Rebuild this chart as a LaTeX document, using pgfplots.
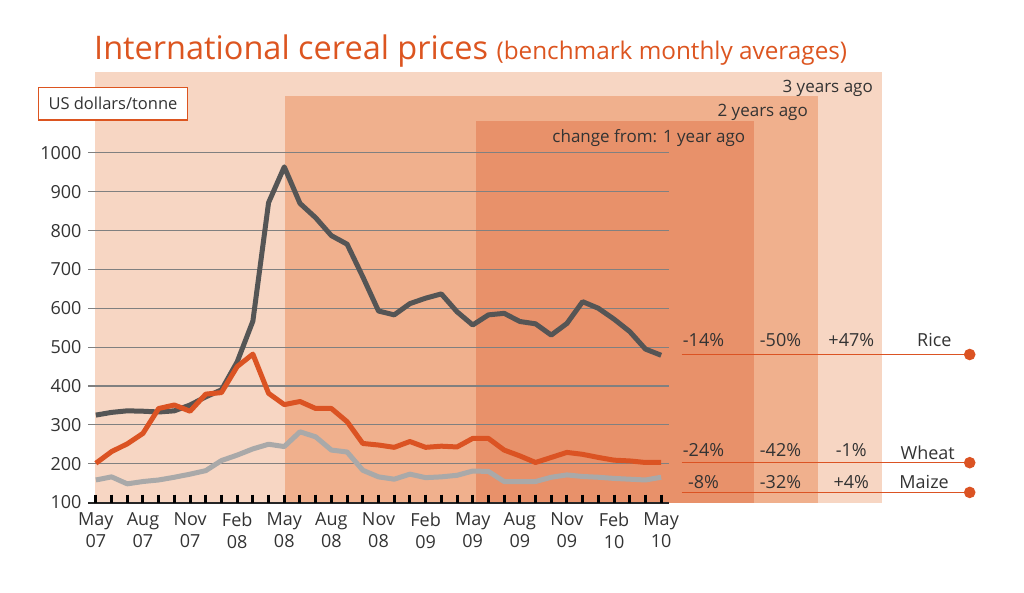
\documentclass[border=0pt]{standalone}
\usepackage{pgfplots}
\usepackage{pgfplotstable}
\pgfplotsset{compat=1.18}
\usepackage{fontspec}
\setmainfont{Open Sans}
\definecolor{bgA}{HTML}{F7D6C3}
\definecolor{bgB}{HTML}{F0B08D}
\definecolor{bgC}{HTML}{E8916A}
\definecolor{titleor}{HTML}{DC5520}
\definecolor{wheatc}{HTML}{DB5323}
\definecolor{ricec}{HTML}{555555}
\definecolor{maizec}{HTML}{A9A9A9}
\definecolor{gridc}{HTML}{808080}
\definecolor{labc}{HTML}{333333}
\pgfplotstableread{
i rice wheat maize
0 325 201 158
1 332 231 166
2 336 251 148
3 335 278 154
4 333 342 158
5 336 351 165
6 351 335 173
7 372 379 182
8 390 383 208
9 462 450 222
10 567 482 238
11 872 381 250
12 964 352 244
13 870 360 282
14 833 342 269
15 787 342 235
16 765 308 230
17 681 252 183
18 593 248 166
19 583 242 160
20 612 257 173
21 626 242 164
22 637 245 166
23 591 243 170
24 557 265 181
25 583 265 180
26 587 235 154
27 566 220 154
28 560 203 154
29 531 216 165
30 561 229 171
31 617 224 167
32 600 216 165
33 572 209 162
34 540 207 160
35 495 203 158
36 479 203 165
}\prices
\begin{document}
\begin{tikzpicture}[x=1pt,y=1pt]
\path[use as bounding box] (0,0) rectangle (1024,592);
\fill[bgA] (95,88.7) rectangle (882.3,520);
\fill[bgB] (285,88.7) rectangle (817.7,496);
\fill[bgC] (475.7,88.7) rectangle (753.7,471.3);
\node[anchor=base west, text=titleor, inner sep=0] at (94,532) {\fontsize{32.5}{36}\selectfont International cereal prices \fontsize{24.3}{28}\selectfont(benchmark monthly averages)};
\node[anchor=base east, text=labc, inner sep=0, font=\fontsize{17}{20}\selectfont] at (873,499) {3 years ago};
\node[anchor=base east, text=labc, inner sep=0, font=\fontsize{17}{20}\selectfont] at (808,475) {2 years ago};
\node[anchor=base east, text=labc, inner sep=0, font=\fontsize{17}{20}\selectfont] at (745.3,449) {change from: 1 year ago};
\draw[titleor, line width=1.5pt, fill=white] (38.3,504.3) rectangle (187.7,472);
\node[text=labc, inner sep=0, font=\fontsize{16.5}{20}\selectfont] at (113,488.2) {US dollars/tonne};
\begin{axis}[
  at={(88pt,89.5pt)}, anchor=south west, scale only axis,
  width=581pt, height=349.6pt,
  xmin=-0.5, xmax=36.5, ymin=100, ymax=1000,
  clip=false,
  axis x line*=bottom, axis y line*=left,
  y axis line style={draw=none},
  x axis line style={line width=2pt, color=black!85, -},
  ytick={100,200,...,1000},
  ymajorgrids, grid style={color=gridc, line width=1.2pt},
  ytick style={draw=none},
  xtick={0,...,36},
  xticklabels={{May\\07},,,{Aug\\07},,,{Nov\\07},,,{Feb\\08},,,{May\\08},,,{Aug\\08},,,{Nov\\08},,,{Feb\\09},,,{May\\09},,,{Aug\\09},,,{Nov\\09},,,{Feb\\10},,,{May\\10}},
  xtick style={draw=none},
  major tick length=0pt,
  xticklabel style={align=center, font=\fontsize{18}{22}\selectfont, text=labc, yshift=-7pt},
  yticklabel style={font=\fontsize{18}{22}\selectfont, text=labc, xshift=-3pt},
  /pgf/number format/assume math mode=true,
  /pgf/number format/1000 sep={},
]
\addplot[maizec, line width=5pt, line join=round] table[x=i, y=maize] {\prices};
\addplot[ricec, line width=5pt, line join=round] table[x=i, y=rice] {\prices};
\addplot[wheatc, line width=5pt, line join=round] table[x=i, y=wheat] {\prices};
% month tick marks along the base line
\addplot[only marks, mark=|, mark size=4pt, mark options={line width=3pt, draw=black}] table[x=i, y expr=110.3] {\prices};
\addplot[wheatc, line width=1.5pt, mark=*, mark indices={2}, mark size=5pt, mark options={fill=wheatc, draw=wheatc}] coordinates {(37.3,481) (55.65,481)};
\addplot[wheatc, line width=1.5pt, mark=*, mark indices={2}, mark size=5pt, mark options={fill=wheatc, draw=wheatc}] coordinates {(37.3,202.5) (55.65,202.5)};
\addplot[wheatc, line width=1.5pt, mark=*, mark indices={2}, mark size=5pt, mark options={fill=wheatc, draw=wheatc}] coordinates {(37.3,126) (55.65,126)};
\end{axis}
\begin{scope}[every node/.style={text=labc, inner sep=0, font=\fontsize{18}{22}\selectfont}]
\node[anchor=base] at (703.5,245.3) {-14\%};
\node[anchor=base] at (780.5,245.3) {-50\%};
\node[anchor=base] at (851.3,245.3) {+47\%};
\node[anchor=base east] at (951.7,246) {Rice};
\node[anchor=base] at (703.5,136) {-24\%};
\node[anchor=base] at (780.5,136) {-42\%};
\node[anchor=base] at (851.3,136) {-1\%};
\node[anchor=base east] at (955,132.7) {Wheat};
\node[anchor=base] at (703.5,104) {-8\%};
\node[anchor=base] at (780.5,104) {-32\%};
\node[anchor=base] at (851.3,104) {+4\%};
\node[anchor=base east] at (949,104) {Maize};
\end{scope}
\end{tikzpicture}
\end{document}
